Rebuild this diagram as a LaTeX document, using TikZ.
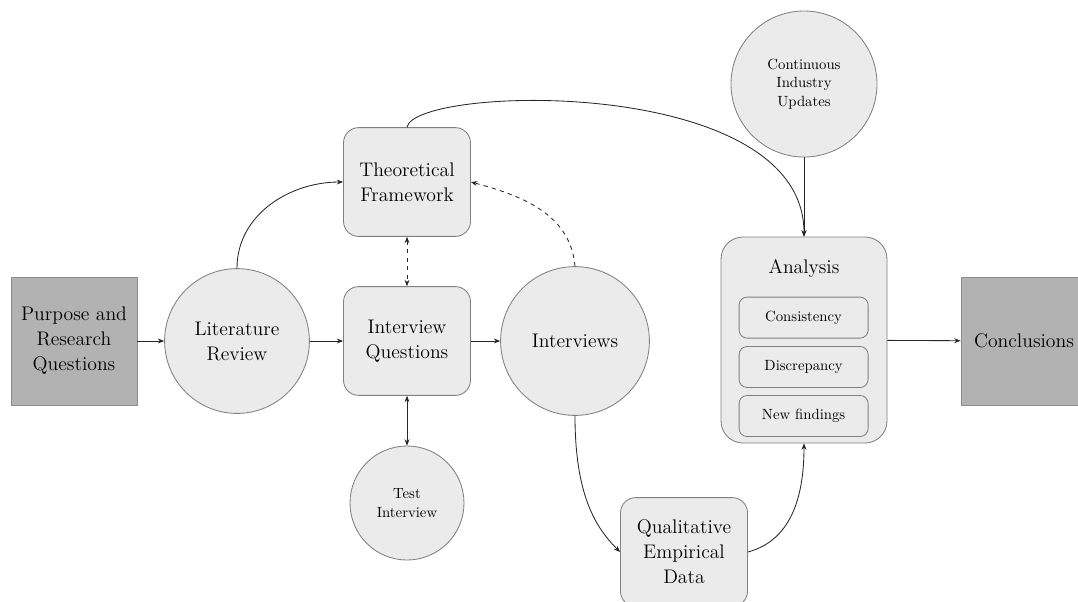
\documentclass[tikz,border=0pt]{standalone}
\usepackage{xcolor}
\usepackage{tikz}
\usetikzlibrary{arrows.meta}

\begin{document}
\begin{tikzpicture}[%
  >={Stealth[length=4.5pt,width=3.5pt]},
  every node/.style={align=center, font=\fontsize{14}{17.8}\selectfont},
  box/.style={draw=black!45, fill=black!30, line width=0.6pt,
    minimum width=3.15cm, minimum height=3.2cm},
  rbox/.style={draw=black!50, fill=black!8, line width=0.6pt, rounded corners=0.38cm,
    minimum width=3.175cm, minimum height=2.72cm},
  circ/.style={circle, draw=black!50, fill=black!8, line width=0.6pt,
    minimum size=3.62cm, inner sep=0pt},
  smalltext/.style={font=\fontsize{10.5}{13.3}\selectfont},
  findbox/.style={draw=black!50, fill=black!8, line width=0.6pt, rounded corners=0.2cm,
    minimum width=3.225cm, minimum height=1.025cm, smalltext},
  link/.style={->, black!85, line width=0.6pt}]
  \useasboundingbox (0,0) rectangle (26.95,-15.025);

  \node[box] (purpose) at (1.85,-8.525) {Purpose and\\Research\\Questions};
  \node[circ] (litreview) at (5.925,-8.525) {Literature\\Review};
  \node[rbox] (framework) at (10.175,-4.55) {Theoretical\\Framework};
  \node[rbox] (questions) at (10.175,-8.525) {Interview\\Questions};
  \node[circ, minimum size=3.72cm] (interviews) at (14.375,-8.525) {Interviews};
  \node[circ, minimum size=2.85cm, smalltext] (testint) at (10.175,-12.575) {Test\\Interview};
  \node[rbox] (empirical) at (17.1,-13.8) {Qualitative\\Empirical\\Data};
  \node[circ, smalltext, minimum size=3.65cm] (updates) at (20.1,-2.1) {Continuous\\Industry\\Updates};
  \node[rbox, minimum width=4.15cm, minimum height=5.15cm, rounded corners=0.55cm] (analysis) at (20.1,-8.5) {};
  \node (analysistitle) at (20.1,-6.72) {Analysis};
  \node[findbox] (consistency) at (20.09,-7.94) {Consistency};
  \node[findbox] (discrepancy) at (20.09,-9.175) {Discrepancy};
  \node[findbox] (newfindings) at (20.09,-10.4) {New findings};
  \node[box] (conclusions) at (25.6,-8.525) {Conclusions};

  \draw[link] (purpose) -- (litreview);
  \draw[link] (litreview) -- (questions);
  \draw[link] (questions) -- (interviews);
  \draw[link] (litreview.north) to[out=90,in=180] (framework.west);
  \draw[link, <->, dashed] (framework) -- (questions);
  \draw[link, dashed] (interviews.north) to[out=95,in=-15] (framework.east);
  \draw[link, <->] (questions) -- (testint);
  \draw[link] (framework.north) .. controls +(0.2,1.05) and +(0,4.05) .. (analysis.north);
  \draw[link] (updates) -- (analysis.north);
  \draw[link] (interviews.south) .. controls +(0,-2) and +(-0.6,0.6) .. (empirical.west);
  \draw[link] (empirical.east) to[out=15,in=-90] (analysis.south);
  \draw[link] (analysis) -- (conclusions);
\end{tikzpicture}
\end{document}
